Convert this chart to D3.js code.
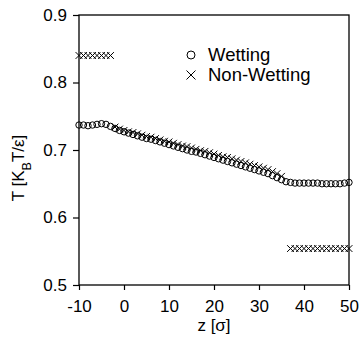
<!DOCTYPE html>
<html>
<head>
<meta charset="utf-8">
<script src="https://cdn.jsdelivr.net/npm/d3@7"></script>
<style>
  body { margin: 0; background: #fff; }
  svg text { font-family: "Liberation Sans", Arial, sans-serif; fill: #000; }
</style>
</head>
<body>
<svg id="chart" width="360" height="340"></svg>
<script>
// Wetting: z = -10 .. 50
const wetZ = d3.range(-10, 51, 1);
const wetT = [0.737, 0.737, 0.736, 0.737, 0.738, 0.739, 0.738, 0.735, 0.732, 0.729,
  0.727, 0.725, 0.723, 0.721, 0.719, 0.717, 0.716, 0.714, 0.712, 0.710,
  0.708, 0.706, 0.704, 0.702, 0.700, 0.698, 0.697, 0.695, 0.693, 0.691,
  0.689, 0.687, 0.685, 0.683, 0.681, 0.679, 0.677, 0.675, 0.673, 0.671,
  0.669, 0.667, 0.665, 0.662, 0.659, 0.656, 0.653, 0.652, 0.651, 0.651,
  0.651, 0.651, 0.651, 0.651, 0.650, 0.650, 0.650, 0.650, 0.650, 0.651, 0.652];

// Non-wetting: three segments
const nonWetZ = [-10, -9, -8, -7, -6, -5, -4, -3,
  -2, -1, 0, 1, 2, 3, 4, 5, 6, 7, 8, 9, 10, 11, 12, 13, 14, 15, 16, 17, 18, 19,
  20, 21, 22, 23, 24, 25, 26, 27, 28, 29, 30, 31, 32, 33, 34, 35,
  37, 38, 39, 40, 41, 42, 43, 44, 45, 46, 47, 48, 49, 50];
const nonWetT = [0.840, 0.840, 0.840, 0.840, 0.840, 0.840, 0.840, 0.840,
  0.734, 0.731, 0.729, 0.727, 0.726, 0.724, 0.722, 0.720, 0.719, 0.717, 0.715, 0.713,
  0.712, 0.710, 0.708, 0.706, 0.705, 0.703, 0.701, 0.699, 0.698, 0.696,
  0.694, 0.692, 0.690, 0.689, 0.687, 0.685, 0.683, 0.681, 0.679, 0.677,
  0.675, 0.673, 0.671, 0.668, 0.665, 0.661,
  0.554, 0.554, 0.554, 0.554, 0.554, 0.554, 0.554, 0.554, 0.554, 0.554, 0.554, 0.554, 0.554, 0.554];

const xTicks = [-10, 0, 10, 20, 30, 40, 50];
const yTicks = [0.5, 0.6, 0.7, 0.8, 0.9];
const legendLabels = ["Wetting", "Non-Wetting"];

const svg = d3.select("#chart");
const mLeft = 79, mRight = 349, mTop = 15, mBottom = 285;

const x = d3.scaleLinear().domain([-10, 50]).range([mLeft, mRight]);
const y = d3.scaleLinear().domain([0.5, 0.9]).range([mBottom, mTop]);

// Axes
const xAxis = svg.append("g").attr("transform", `translate(0,${mBottom})`)
  .call(d3.axisBottom(x).tickValues(xTicks).tickSize(5).tickPadding(10).tickFormat(d => String(d)));
const yAxis = svg.append("g").attr("transform", `translate(${mLeft},0)`)
  .call(d3.axisLeft(y).tickValues(yTicks).tickSize(6).tickPadding(6).tickFormat(d => d.toFixed(1)));
[xAxis, yAxis].forEach(g => {
  g.select(".domain").remove();
  g.selectAll("line").attr("stroke", "#000").attr("stroke-width", 1.2);
  g.selectAll("text").style("font-size", "17px").style("font-family", "'Liberation Sans', Arial, sans-serif");
});

// Frame
svg.append("rect").attr("x", mLeft).attr("y", mTop)
  .attr("width", mRight - mLeft).attr("height", mBottom - mTop)
  .attr("fill", "none").attr("stroke", "#000").attr("stroke-width", 1.3);

// Wetting circles
svg.append("g").selectAll("circle").data(wetZ).join("circle")
  .attr("cx", (d) => x(d))
  .attr("cy", (d, i) => y(wetT[i]))
  .attr("r", 3.2)
  .attr("fill", "none").attr("stroke", "#000").attr("stroke-width", 1);

// Non-wetting crosses
const cs = 3.4;
svg.append("g").selectAll("path").data(nonWetZ).join("path")
  .attr("d", (d, i) => {
    const cx = x(d), cy = y(nonWetT[i]);
    return `M${cx - cs},${cy - cs}L${cx + cs},${cy + cs}M${cx - cs},${cy + cs}L${cx + cs},${cy - cs}`;
  })
  .attr("fill", "none").attr("stroke", "#000").attr("stroke-width", 1);

// Legend
const lg = svg.append("g");
lg.append("circle").attr("cx", 191).attr("cy", 55).attr("r", 4)
  .attr("fill", "none").attr("stroke", "#000").attr("stroke-width", 1);
lg.append("path").attr("d", "M186.5,70.5L195.5,79.5M186.5,79.5L195.5,70.5")
  .attr("stroke", "#000").attr("stroke-width", 1);
lg.append("text").attr("x", 208).attr("y", 55).attr("dy", "0.35em")
  .style("font-size", "18.5px").text(legendLabels[0]);
lg.append("text").attr("x", 208).attr("y", 75).attr("dy", "0.35em")
  .style("font-size", "18.5px").text(legendLabels[1]);

// Axis titles
svg.append("text").attr("x", (mLeft + mRight) / 2).attr("y", 331)
  .attr("text-anchor", "middle").style("font-size", "17px").text("z [σ]");

const yt = svg.append("text")
  .attr("transform", "translate(24,168) rotate(-90)")
  .attr("text-anchor", "middle").style("font-size", "17px");
yt.append("tspan").text("T [K");
yt.append("tspan").attr("baseline-shift", "sub").style("font-size", "12.5px").text("B");
yt.append("tspan").text("T/ε]");
</script>
</body>
</html>
